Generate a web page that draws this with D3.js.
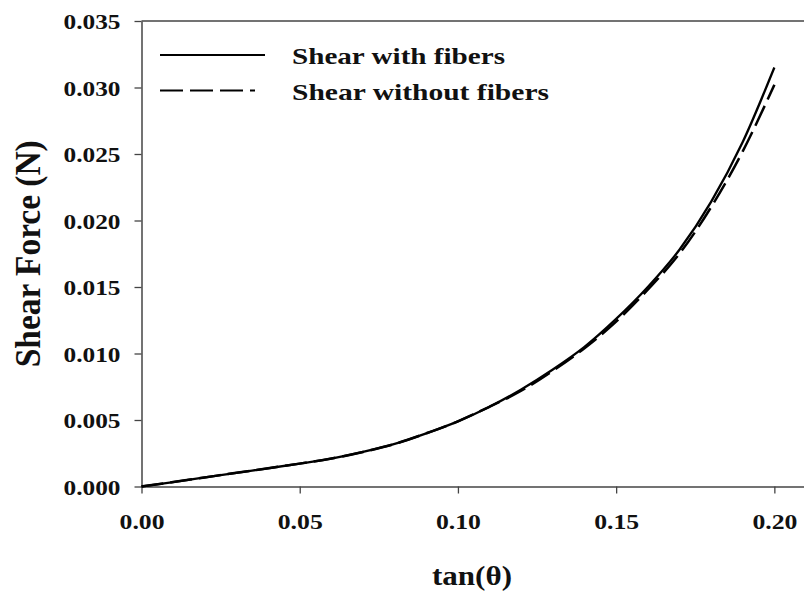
<!DOCTYPE html>
<html><head><meta charset="utf-8">
<script src="https://cdn.jsdelivr.net/npm/d3@7"></script>
<style>body{margin:0;background:#fff}svg{display:block}text{font-family:"Liberation Serif","Times New Roman",serif;font-weight:bold;fill:#111}</style>
</head><body>
<script>
const tanTheta = [0.00,0.01,0.02,0.03,0.04,0.05,0.06,0.07,0.08,0.09,0.10,0.11,0.12,0.13,0.14,0.15,0.16,0.17,0.18,0.19,0.20];
const withFibers = [0.0000,0.00033,0.00068,0.00103,0.00137,0.00172,0.0021,0.0026,0.0032,0.0040,0.0049,0.0060,0.0073,0.0088,0.0105,0.0126,0.0150,0.0178,0.0214,0.0259,0.0315];
const withoutFibers = [0.0000,0.00033,0.00068,0.00103,0.00137,0.00172,0.0021,0.0026,0.0032,0.0040,0.0049,0.0060,0.0072,0.0087,0.0104,0.0124,0.0148,0.0175,0.0210,0.0252,0.0302];
const seriesNames = ["Shear with fibers","Shear without fibers"];
const xTicks = [0,0.05,0.10,0.15,0.20];
const yTicks = [0,0.005,0.010,0.015,0.020,0.025,0.030,0.035];
const xTitle = "tan(\u03B8)";
const yTitle = "Shear Force (N)";

const W=804,H=597;
const svg=d3.select("body").append("svg").attr("width",W).attr("height",H);
const L=141.5,R=806,T=21,B=486.5;
const x=d3.scaleLinear().domain([0,0.21]).range([L,R]);
const y=d3.scaleLinear().domain([0,0.035]).range([B,T]);
function fit(sel,w){sel.attr("textLength",w).attr("lengthAdjust","spacingAndGlyphs");}

svg.append("line").attr("x1",L).attr("x2",R).attr("y1",T).attr("y2",T).attr("stroke","#444").attr("stroke-width",1.5);
svg.append("line").attr("x1",R).attr("x2",R).attr("y1",T).attr("y2",B).attr("stroke","#444").attr("stroke-width",1.5);

const xAxis=svg.append("g").attr("transform",`translate(0,${B})`)
  .call(d3.axisBottom(x).tickValues(xTicks).tickFormat(d3.format(".2f")).tickSize(7).tickSizeOuter(0));
const yAxis=svg.append("g").attr("transform",`translate(${L},0)`)
  .call(d3.axisLeft(y).tickValues(yTicks).tickFormat(d3.format(".3f")).tickSize(7).tickSizeOuter(0));
[xAxis,yAxis].forEach(g=>{
  g.select(".domain").attr("stroke","#444").attr("stroke-width",1.5);
  g.selectAll(".tick line").attr("stroke","#444").attr("stroke-width",1.3);
  g.selectAll("text").attr("font-size",22).attr("font-family",null).attr("fill","#111");
});
xAxis.selectAll(".tick text").attr("dy",null).attr("y",42);
yAxis.selectAll(".tick text").attr("x",-21).attr("dy","0.35em");
fit(xAxis.selectAll(".tick text"),45);
fit(yAxis.selectAll(".tick text"),57);

const line=d3.line().x((d,i)=>x(tanTheta[i])).y(d=>y(d)).curve(d3.curveMonotoneX);
svg.append("path").datum(withoutFibers).attr("d",line).attr("fill","none").attr("stroke","#000").attr("stroke-width",2.5).attr("stroke-dasharray","22,7");
svg.append("path").datum(withFibers).attr("d",line).attr("fill","none").attr("stroke","#000").attr("stroke-width",2.3);

const lg=svg.append("g");
lg.append("line").attr("x1",160).attr("x2",265).attr("y1",55).attr("y2",55).attr("stroke","#000").attr("stroke-width",2);
lg.append("line").attr("x1",160).attr("x2",255).attr("y1",90.5).attr("y2",90.5).attr("stroke","#000").attr("stroke-width",2).attr("stroke-dasharray","23,7");
const legendWidths=[213,257];
lg.selectAll("text.lg").data(seriesNames).join("text").attr("class","lg")
  .attr("x",292).attr("y",(d,i)=>64+i*35.5).attr("font-size",24).text(d=>d)
  .attr("textLength",(d,i)=>legendWidths[i]).attr("lengthAdjust","spacingAndGlyphs");

const xt=svg.append("text").attr("x",472).attr("y",585).attr("text-anchor","middle").attr("font-size",28).text(xTitle);
fit(xt,80);
svg.append("g").attr("transform",`translate(40,${(T+B)/2}) scale(1.25,1)`)
  .append("text").attr("transform","rotate(-90)").attr("text-anchor","middle").attr("font-size",28).attr("textLength",227).attr("lengthAdjust","spacingAndGlyphs").text(yTitle);
</script>
</body></html>
